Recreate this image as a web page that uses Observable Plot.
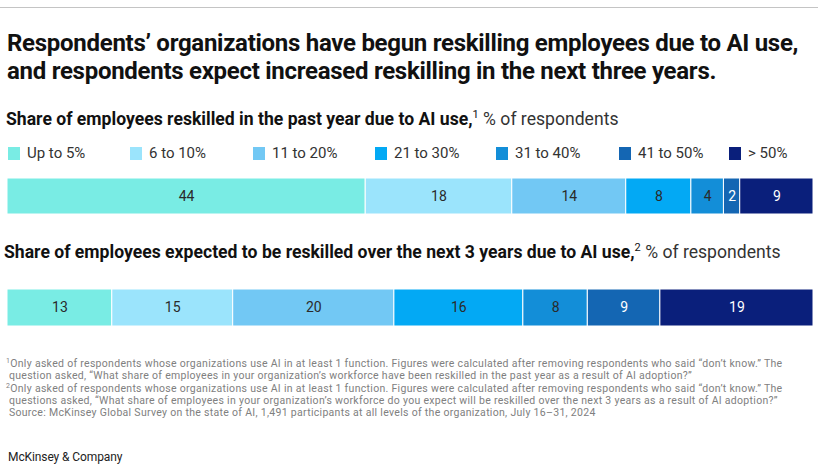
<!DOCTYPE html>
<html>
<head>
<meta charset="utf-8">
<script src="https://cdn.jsdelivr.net/npm/d3@7"></script>
<script src="https://cdn.jsdelivr.net/npm/@observablehq/plot@0.6"></script>
<style>
  html, body { margin: 0; padding: 0; background: #fff; }
  body { width: 830px; height: 468px; position: relative; overflow: hidden; font-family: Roboto, "Noto Sans", sans-serif; color: #111; }
  .abs { position: absolute; left: 0; }
  #rule { top: 7px; left: 0; width: 818px; height: 0; border-top: 1.5px solid #c4c4c4; }
  #title { top: 29px; left: 7px; font-size: 24px; font-weight: 700; line-height: 28px; letter-spacing: -0.28px; white-space: nowrap; }
  .sub { left: 6px; font-size: 17.6px; line-height: 22px; white-space: nowrap; letter-spacing: 0px; }
  .sub b { font-weight: 700; }
  .sub span { font-weight: 400; color: #333; }
  .sub sup { font-size: 11px; vertical-align: 7px; line-height: 0; }
  #sub1 { top: 108px; }
  #sub2 { top: 241px; left: 4px; }
  #legend { top: 145px; left: 0; height: 16px; font-size: 15px; line-height: 16px; color: #333; }
  .item { position: absolute; top: 0; white-space: nowrap; }
  .sw { display: inline-block; width: 12px; height: 13px; vertical-align: -2px; margin-right: 7px; }
  #plot1 { top: 178px; }
  #plot2 { top: 289px; }
  #notes { top: 358px; left: 6px; font-size: 10.5px; line-height: 12.3px; color: #808080; white-space: nowrap; letter-spacing: 0.3px; }
  #notes sup { font-size: 7px; vertical-align: 4px; line-height: 0; }
  #footer { top: 450px; left: 8px; font-size: 12px; line-height: 14px; color: #222; letter-spacing: -0.1px; }
</style>
</head>
<body>
<div id="rule" class="abs"></div>
<div id="title" class="abs">Respondents’ organizations have begun reskilling employees due to AI use,<br>and respondents expect increased reskilling in the next three years.</div>
<div id="sub1" class="abs sub"><b>Share of employees reskilled in the past year due to AI use,</b><sup>1</sup> <span>% of respondents</span></div>
<div id="legend" class="abs"></div>
<div id="plot1" class="abs"></div>
<div id="sub2" class="abs sub"><b>Share of employees expected to be reskilled over the next 3 years due to AI use,</b><sup>2</sup> <span>% of respondents</span></div>
<div id="plot2" class="abs"></div>
<div id="notes" class="abs"><sup>1</sup>Only asked of respondents whose organizations use AI in at least 1 function. Figures were calculated after removing respondents who said “don’t know.” The<br>&nbsp;question asked, “What share of employees in your organization’s workforce have been reskilled in the past year as a result of AI adoption?”<br><sup>2</sup>Only asked of respondents whose organizations use AI in at least 1 function. Figures were calculated after removing respondents who said “don’t know.” The<br>&nbsp;questions asked, “What share of employees in your organization’s workforce do you expect will be reskilled over the next 3 years as a result of AI adoption?”<br>&nbsp;Source: McKinsey Global Survey on the state of AI, 1,491 participants at all levels of the organization, July 16–31, 2024</div>
<div id="footer" class="abs">McKinsey &amp; Company</div>
<script>
const categories = ["Up to 5%", "6 to 10%", "11 to 20%", "21 to 30%", "31 to 40%", "41 to 50%", "> 50%"];
const colors = ["#79ece4", "#9be4fc", "#72c8f4", "#03a9f4", "#138ed8", "#1466b3", "#0a1f7b"];
const pastYear = [44, 18, 14, 8, 4, 2, 9];
const next3Years = [13, 15, 20, 16, 8, 9, 19];
const darkCategories = ["41 to 50%", "> 50%"];

// legend
const legendX = [8, 130, 253, 375, 496, 619, 729];
const legend = document.getElementById("legend");
categories.forEach((c, i) => {
  const it = document.createElement("div");
  it.className = "item";
  it.style.left = legendX[i] + "px";
  it.innerHTML = `<span class="sw" style="background:${colors[i]}"></span>${c}`;
  legend.appendChild(it);
});

function bar(values, h) {
  const data = categories.map((cat, i) => ({cat, value: values[i]}));
  return Plot.plot({
    width: 830,
    height: h,
    marginLeft: 7,
    marginRight: 17,
    marginTop: 0,
    marginBottom: 0,
    x: {axis: null},
    y: {axis: null},
    color: {domain: categories, range: colors},
    style: {fontFamily: "Roboto, sans-serif", background: "transparent"},
    marks: [
      Plot.barX(data, Plot.stackX({x: "value", fill: "cat", offset: "normalize", order: null, stroke: "white", strokeWidth: 1})),
      Plot.text(data, Plot.stackX({x: "value", text: d => String(d.value), offset: "normalize", order: null,
        fill: d => darkCategories.includes(d.cat) ? "#ffffff" : "#2a2a2a", fontSize: 14}))
    ]
  });
}
document.getElementById("plot1").appendChild(bar(pastYear, 36));
document.getElementById("plot2").appendChild(bar(next3Years, 37));
</script>
</body>
</html>
